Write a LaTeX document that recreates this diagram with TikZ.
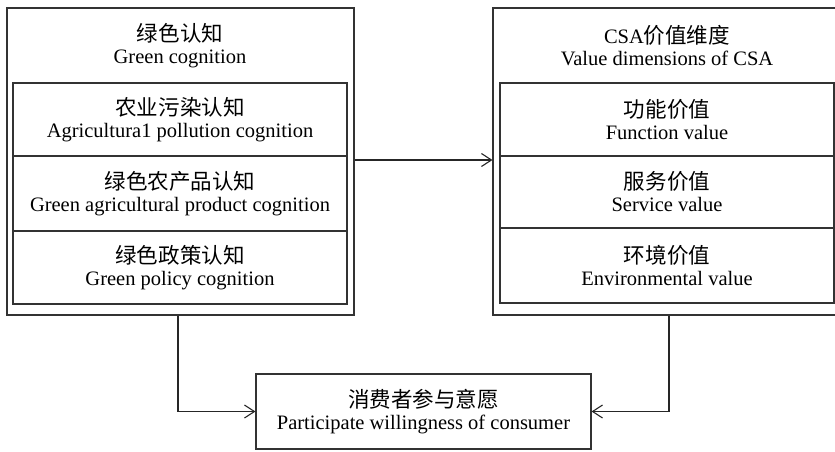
\documentclass[tikz,border=0pt]{standalone}
\usepackage{fontspec}
\setmainfont{Liberation Serif}
\newfontfamily\cjk{Noto Sans CJK SC}[Scale=1.05]
\usetikzlibrary{arrows.meta}
\tikzset{
  frame/.style={draw=black!80, line width=1.1pt, inner sep=0pt},
  cell/.style={draw=black!80, line width=1.1pt, inner sep=0pt, minimum width=334pt,
    align=center, font=\fontsize{20.5}{22}\selectfont},
  label/.style={align=center, inner sep=0pt, font=\fontsize{20.5}{22}\selectfont},
  link/.style={draw=black!85, line width=1.1pt, -{Straight Barb[length=10pt,width=13pt,line width=1.1pt]}}
}
\begin{document}
\begin{tikzpicture}[x=1pt,y=-1pt]
\useasboundingbox (0,0) rectangle (835,451);
% left block: green cognition
\node[frame, minimum width=347pt, minimum height=307pt] (L) at (180.5,161.5) {};
\node[label] (Lt) at (180,46) {{\cjk 绿色认知}\\Green cognition};
\node[cell, minimum height=73pt] (L1) at (180,119.5) {{\cjk 农业污染认知}\\Agricultura1 pollution cognition};
\node[cell, minimum height=75pt] (L2) at (180,193.5) {{\cjk 绿色农产品认知}\\Green agricultural product cognition};
\node[cell, minimum height=73pt] (L3) at (180,267.5) {{\cjk 绿色政策认知}\\Green policy cognition};
% right block: value dimensions of CSA
\node[frame, minimum width=348pt, minimum height=307pt] (R) at (667,161.5) {};
\node[label] (Rt) at (667,46) {CSA{\cjk 价值维度}\\Value dimensions of CSA};
\node[cell, minimum height=73pt] (R1) at (667,119.5) {{\cjk 功能价值}\\Function value};
\node[cell, minimum height=72pt] (R2) at (667,192) {{\cjk 服务价值}\\Service value};
\node[cell, minimum height=75pt] (R3) at (667,265.5) {{\cjk 环境价值}\\Environmental value};
% outcome
\node[frame, minimum width=335pt, minimum height=75pt, align=center,
  font=\fontsize{20.5}{22}\selectfont] (B) at (423.5,411.5)
  {{\cjk 消费者参与意愿}\\Participate willingness of consumer};
% connectors
\draw[link] (L.east |- 0,160) -- (R.west |- 0,160);
\draw[link] (L.south -| 178,0) |- (B.west);
\draw[link] (R.south -| 669,0) |- (B.east);
\end{tikzpicture}
\end{document}
